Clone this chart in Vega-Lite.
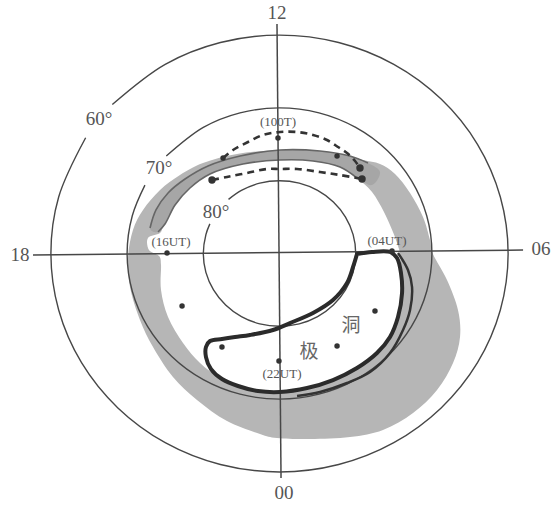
{
  "$schema": "https://vega.github.io/schema/vega-lite/v6.json",
  "width": 553,
  "height": 506,
  "autosize": {"type": "none"},
  "padding": 0,
  "background": "white",
  "config": {"view": {"stroke": null}},
  "encoding": {
    "x": {"field": "x", "type": "quantitative", "scale": {"domain": [-36.68, 35.89], "nice": false, "zero": false}, "axis": null},
    "y": {"field": "y", "type": "quantitative", "scale": {"domain": [-34.68, 34.82], "nice": false, "zero": false}, "axis": null}
  },
  "layer": [
    {
      "data": {"name": "ovalOuter"},
      "mark": {"type": "line", "interpolate": "cardinal-closed", "fill": "#b6b6b6", "strokeWidth": 0},
      "encoding": {"order": {"field": "i", "type": "quantitative"}}
    },
    {
      "data": {"name": "ovalInner"},
      "mark": {"type": "line", "interpolate": "cardinal-closed", "fill": "white", "strokeWidth": 0},
      "encoding": {"order": {"field": "i", "type": "quantitative"}}
    },
    {
      "data": {"name": "daysideBand"},
      "mark": {"type": "line", "interpolate": "cardinal-closed", "fill": "#a6a6a6", "strokeWidth": 0},
      "encoding": {"order": {"field": "i", "type": "quantitative"}}
    },
    {
      "data": {"name": "bandEdges"},
      "mark": {"type": "line", "interpolate": "catmull-rom", "color": "#666666", "strokeWidth": 1.6},
      "encoding": {"detail": {"field": "g"}, "order": {"field": "i", "type": "quantitative"}}
    },
    {
      "data": {"name": "latCircles"},
      "mark": {"type": "line", "interpolate": "catmull-rom", "color": "#474747", "strokeWidth": 1.4},
      "encoding": {"detail": {"field": "g"}, "order": {"field": "i", "type": "quantitative"}}
    },
    {
      "data": {"name": "mltAxes"},
      "mark": {"type": "line", "color": "#474747", "strokeWidth": 1.5},
      "encoding": {"detail": {"field": "g"}, "order": {"field": "i", "type": "quantitative"}}
    },
    {
      "data": {"name": "polewardEdge"},
      "mark": {"type": "line", "interpolate": "catmull-rom", "color": "#333333", "strokeWidth": 2.5},
      "encoding": {"order": {"field": "i", "type": "quantitative"}}
    },
    {
      "data": {"name": "capBoundary"},
      "mark": {"type": "line", "interpolate": "catmull-rom", "color": "#2b2b2b", "strokeWidth": 4, "strokeJoin": "round", "strokeCap": "round"},
      "encoding": {"order": {"field": "i", "type": "quantitative"}}
    },
    {
      "data": {"name": "dashedArcs"},
      "mark": {"type": "line", "interpolate": "catmull-rom", "color": "#333333", "strokeWidth": 2.6, "strokeDash": [7, 5]},
      "encoding": {"detail": {"field": "g"}, "order": {"field": "i", "type": "quantitative"}}
    },
    {
      "data": {"name": "arcEnds"},
      "mark": {"type": "point", "filled": true, "size": 55, "color": "#333333", "opacity": 1}
    },
    {
      "data": {"name": "stations"},
      "mark": {"type": "point", "filled": true, "size": 30, "color": "#333333", "opacity": 1}
    },
    {
      "data": {"name": "bigLabels"},
      "mark": {"type": "text", "font": "Liberation Serif", "fontSize": 19, "color": "#555555", "align": "center", "baseline": "middle"},
      "encoding": {"text": {"field": "t"}}
    },
    {
      "data": {"name": "timeLabels"},
      "mark": {"type": "text", "font": "Liberation Serif", "fontSize": 13, "color": "#555555", "align": "center", "baseline": "middle"},
      "encoding": {"text": {"field": "t"}}
    },
    {
      "data": {"name": "holeLabels"},
      "mark": {"type": "text", "font": "Noto Sans CJK SC", "fontSize": 19, "color": "#666666", "align": "center", "baseline": "middle"},
      "encoding": {"text": {"field": "t"}}
    }
  ],
  "datasets": {
    "ovalOuter": [
      {"i": 0, "x": 0.07, "y": 14.22}, {"i": 1, "x": 4.0, "y": 14.08}, {"i": 2, "x": 8.33, "y": 13.53},
      {"i": 3, "x": 10.96, "y": 12.84}, {"i": 4, "x": 13.19, "y": 12.29}, {"i": 5, "x": 15.16, "y": 10.92},
      {"i": 6, "x": 17.13, "y": 8.31}, {"i": 7, "x": 18.83, "y": 5.01}, {"i": 8, "x": 19.75, "y": 1.85},
      {"i": 9, "x": 20.14, "y": -0.07}, {"i": 10, "x": 21.98, "y": -3.64}, {"i": 11, "x": 23.42, "y": -7.76},
      {"i": 12, "x": 23.69, "y": -11.47}, {"i": 13, "x": 22.77, "y": -15.04}, {"i": 14, "x": 20.67, "y": -18.75},
      {"i": 15, "x": 17.52, "y": -21.91}, {"i": 16, "x": 13.58, "y": -24.24}, {"i": 17, "x": 9.25, "y": -25.21},
      {"i": 18, "x": 4.0, "y": -25.48}, {"i": 19, "x": -0.33, "y": -25.34}, {"i": 20, "x": -2.56, "y": -24.79},
      {"i": 21, "x": -6.89, "y": -23.01}, {"i": 22, "x": -10.83, "y": -20.12}, {"i": 23, "x": -13.98, "y": -16.96},
      {"i": 24, "x": -16.6, "y": -12.84}, {"i": 25, "x": -18.31, "y": -9.13}, {"i": 26, "x": -19.62, "y": -4.6},
      {"i": 27, "x": -19.88, "y": -0.48}, {"i": 28, "x": -19.23, "y": 3.23}, {"i": 29, "x": -17.91, "y": 5.98},
      {"i": 30, "x": -15.68, "y": 8.72}, {"i": 31, "x": -13.06, "y": 10.78}, {"i": 32, "x": -10.04, "y": 12.43},
      {"i": 33, "x": -5.58, "y": 13.67}
    ],
    "ovalInner": [
      {"i": 0, "x": 0.07, "y": 12.84}, {"i": 1, "x": 4.4, "y": 12.71}, {"i": 2, "x": 7.94, "y": 11.88},
      {"i": 3, "x": 10.17, "y": 10.37}, {"i": 4, "x": 12.14, "y": 8.45}, {"i": 5, "x": 13.71, "y": 5.7},
      {"i": 6, "x": 14.89, "y": 2.95}, {"i": 7, "x": 15.55, "y": 1.03}, {"i": 8, "x": 15.81, "y": -0.07},
      {"i": 9, "x": 15.94, "y": -2.68}, {"i": 10, "x": 16.08, "y": -5.43}, {"i": 11, "x": 15.55, "y": -8.72},
      {"i": 12, "x": 14.5, "y": -11.47}, {"i": 13, "x": 12.79, "y": -13.67}, {"i": 14, "x": 10.17, "y": -15.73},
      {"i": 15, "x": 7.02, "y": -17.38}, {"i": 16, "x": 3.61, "y": -18.48}, {"i": 17, "x": 0.07, "y": -19.02},
      {"i": 18, "x": -2.95, "y": -19.02}, {"i": 19, "x": -4.79, "y": -18.48}, {"i": 20, "x": -7.81, "y": -17.1},
      {"i": 21, "x": -10.43, "y": -15.04}, {"i": 22, "x": -12.66, "y": -12.29}, {"i": 23, "x": -14.63, "y": -8.72},
      {"i": 24, "x": -15.55, "y": -5.01}, {"i": 25, "x": -15.55, "y": -1.58}, {"i": 26, "x": -15.81, "y": -0.34},
      {"i": 27, "x": -17.13, "y": 0.48}, {"i": 28, "x": -17.26, "y": 2.13}, {"i": 29, "x": -15.68, "y": 2.82},
      {"i": 30, "x": -15.16, "y": 4.05}, {"i": 31, "x": -13.71, "y": 6.66}, {"i": 32, "x": -11.75, "y": 9.0},
      {"i": 33, "x": -9.12, "y": 10.92}, {"i": 34, "x": -4.79, "y": 12.29}
    ],
    "daysideBand": [
      {"i": 0, "x": -16.99, "y": 3.5}, {"i": 1, "x": -16.21, "y": 5.98}, {"i": 2, "x": -14.63, "y": 8.31},
      {"i": 3, "x": -12.4, "y": 10.23}, {"i": 4, "x": -9.38, "y": 12.02}, {"i": 5, "x": -5.18, "y": 13.39},
      {"i": 6, "x": 0.07, "y": 14.22}, {"i": 7, "x": 5.31, "y": 14.08}, {"i": 8, "x": 9.25, "y": 13.39},
      {"i": 9, "x": 11.61, "y": 12.43}, {"i": 10, "x": 13.19, "y": 11.19}, {"i": 11, "x": 12.14, "y": 9.41},
      {"i": 12, "x": 10.17, "y": 10.37}, {"i": 13, "x": 7.94, "y": 11.88}, {"i": 14, "x": 4.4, "y": 12.71},
      {"i": 15, "x": 0.07, "y": 12.84}, {"i": 16, "x": -4.79, "y": 12.29}, {"i": 17, "x": -9.12, "y": 10.92},
      {"i": 18, "x": -11.75, "y": 9.0}, {"i": 19, "x": -13.71, "y": 6.66}, {"i": 20, "x": -15.03, "y": 4.05},
      {"i": 21, "x": -15.94, "y": 2.95}
    ],
    "bandEdges": [
      {"g": "outer", "i": 0, "x": -16.99, "y": 3.5}, {"g": "outer", "i": 1, "x": -16.21, "y": 5.98}, {"g": "outer", "i": 2, "x": -14.63, "y": 8.31},
      {"g": "outer", "i": 3, "x": -12.4, "y": 10.23}, {"g": "outer", "i": 4, "x": -9.38, "y": 12.02}, {"g": "outer", "i": 5, "x": -5.18, "y": 13.39},
      {"g": "outer", "i": 6, "x": 0.07, "y": 14.22}, {"g": "outer", "i": 7, "x": 5.31, "y": 14.08}, {"g": "outer", "i": 8, "x": 9.25, "y": 13.39},
      {"g": "outer", "i": 9, "x": 11.61, "y": 12.43},
      {"g": "inner", "i": 0, "x": -15.94, "y": 2.95}, {"g": "inner", "i": 1, "x": -15.03, "y": 4.05}, {"g": "inner", "i": 2, "x": -13.71, "y": 6.66},
      {"g": "inner", "i": 3, "x": -11.75, "y": 9.0}, {"g": "inner", "i": 4, "x": -9.12, "y": 10.92}, {"g": "inner", "i": 5, "x": -4.79, "y": 12.29},
      {"g": "inner", "i": 6, "x": 0.07, "y": 12.84}, {"g": "inner", "i": 7, "x": 4.4, "y": 12.71}, {"g": "inner", "i": 8, "x": 7.94, "y": 11.88},
      {"g": "inner", "i": 9, "x": 10.17, "y": 10.37}
    ],
    "latCircles": [
      {"g": "60", "i": 0, "x": -25.44, "y": 15.9}, {"g": "60", "i": 2, "x": -28.98, "y": 7.76},
      {"g": "60", "i": 3, "x": -30, "y": 0}, {"g": "60", "i": 4, "x": -28.98, "y": -7.76}, {"g": "60", "i": 5, "x": -25.98, "y": -15.0},
      {"g": "60", "i": 6, "x": -21.21, "y": -21.21}, {"g": "60", "i": 7, "x": -15.0, "y": -25.98}, {"g": "60", "i": 8, "x": -7.76, "y": -28.98},
      {"g": "60", "i": 9, "x": 0, "y": -30}, {"g": "60", "i": 10, "x": 7.76, "y": -28.98}, {"g": "60", "i": 11, "x": 15.0, "y": -25.98},
      {"g": "60", "i": 12, "x": 21.21, "y": -21.21}, {"g": "60", "i": 13, "x": 25.98, "y": -15.0}, {"g": "60", "i": 14, "x": 28.98, "y": -7.76},
      {"g": "60", "i": 15, "x": 30, "y": 0}, {"g": "60", "i": 16, "x": 28.98, "y": 7.76}, {"g": "60", "i": 17, "x": 25.98, "y": 15.0},
      {"g": "60", "i": 18, "x": 21.21, "y": 21.21}, {"g": "60", "i": 19, "x": 15.0, "y": 25.98}, {"g": "60", "i": 20, "x": 7.76, "y": 28.98},
      {"g": "60", "i": 21, "x": 0, "y": 30}, {"g": "60", "i": 22, "x": -7.76, "y": 28.98}, {"g": "60", "i": 23, "x": -15.0, "y": 25.98},
      {"g": "60", "i": 25, "x": -21.94, "y": 20.46},
      {"g": "70", "i": 0, "x": -17.66, "y": 9.39}, {"g": "70", "i": 1, "x": -19.32, "y": 5.18}, {"g": "70", "i": 2, "x": -20, "y": 0},
      {"g": "70", "i": 3, "x": -19.32, "y": -5.18}, {"g": "70", "i": 4, "x": -17.32, "y": -10.0}, {"g": "70", "i": 5, "x": -14.14, "y": -14.14},
      {"g": "70", "i": 6, "x": -10.0, "y": -17.32}, {"g": "70", "i": 7, "x": -5.18, "y": -19.32}, {"g": "70", "i": 8, "x": 0, "y": -20},
      {"g": "70", "i": 9, "x": 5.18, "y": -19.32}, {"g": "70", "i": 10, "x": 10.0, "y": -17.32}, {"g": "70", "i": 11, "x": 14.14, "y": -14.14},
      {"g": "70", "i": 12, "x": 17.32, "y": -10.0}, {"g": "70", "i": 13, "x": 19.32, "y": -5.18}, {"g": "70", "i": 14, "x": 20, "y": 0},
      {"g": "70", "i": 15, "x": 19.32, "y": 5.18}, {"g": "70", "i": 16, "x": 17.32, "y": 10.0}, {"g": "70", "i": 17, "x": 14.14, "y": 14.14},
      {"g": "70", "i": 18, "x": 10.0, "y": 17.32}, {"g": "70", "i": 19, "x": 5.18, "y": 19.32}, {"g": "70", "i": 20, "x": 0, "y": 20},
      {"g": "70", "i": 21, "x": -5.18, "y": 19.32}, {"g": "70", "i": 22, "x": -10.0, "y": 17.32},
      {"g": "70", "i": 24, "x": -14.86, "y": 13.38},
      {"g": "80", "i": 0, "x": -9.14, "y": 4.07}, {"g": "80", "i": 1, "x": -9.66, "y": 2.59}, {"g": "80", "i": 2, "x": -10, "y": 0},
      {"g": "80", "i": 3, "x": -9.66, "y": -2.59}, {"g": "80", "i": 4, "x": -8.66, "y": -5.0}, {"g": "80", "i": 5, "x": -7.07, "y": -7.07},
      {"g": "80", "i": 6, "x": -5.0, "y": -8.66}, {"g": "80", "i": 7, "x": -2.59, "y": -9.66}, {"g": "80", "i": 8, "x": 0, "y": -10},
      {"g": "80", "i": 9, "x": 2.59, "y": -9.66}, {"g": "80", "i": 10, "x": 5.0, "y": -8.66}, {"g": "80", "i": 11, "x": 7.07, "y": -7.07},
      {"g": "80", "i": 12, "x": 8.66, "y": -5.0}, {"g": "80", "i": 13, "x": 9.66, "y": -2.59}, {"g": "80", "i": 14, "x": 10, "y": 0},
      {"g": "80", "i": 15, "x": 9.66, "y": 2.59}, {"g": "80", "i": 16, "x": 8.66, "y": 5.0}, {"g": "80", "i": 17, "x": 7.07, "y": 7.07},
      {"g": "80", "i": 18, "x": 5.0, "y": 8.66}, {"g": "80", "i": 19, "x": 2.59, "y": 9.66}, {"g": "80", "i": 20, "x": 0, "y": 10},
      {"g": "80", "i": 21, "x": -2.59, "y": 9.66}, {"g": "80", "i": 22, "x": -5.0, "y": 8.66}, {"g": "80", "i": 23, "x": -6.69, "y": 7.43}
    ],
    "mltAxes": [
      {"g": "noon-midnight", "i": 0, "x": -0.33, "y": 31.52}, {"g": "noon-midnight", "i": 1, "x": 0.2, "y": -30.84},
      {"g": "dusk-dawn", "i": 0, "x": -32.35, "y": -0.21}, {"g": "dusk-dawn", "i": 1, "x": 31.96, "y": 0.48}
    ],
    "polewardEdge": [
      {"i": 0, "x": 15.55, "y": 0.07}, {"i": 1, "x": 16.86, "y": -2.27}, {"i": 2, "x": 17.39, "y": -4.6},
      {"i": 3, "x": 17.13, "y": -7.76}, {"i": 4, "x": 16.21, "y": -10.51}, {"i": 5, "x": 14.5, "y": -13.67},
      {"i": 6, "x": 11.88, "y": -16.28}, {"i": 7, "x": 8.86, "y": -17.79}, {"i": 8, "x": 5.31, "y": -19.02},
      {"i": 9, "x": 2.3, "y": -19.57}
    ],
    "capBoundary": [
      {"i": 0, "x": 10.17, "y": -0.07}, {"i": 1, "x": 12.14, "y": 0.21}, {"i": 2, "x": 14.5, "y": 0.21},
      {"i": 3, "x": 15.42, "y": -0.62}, {"i": 4, "x": 15.94, "y": -2.68}, {"i": 5, "x": 16.08, "y": -5.43},
      {"i": 6, "x": 15.55, "y": -8.72}, {"i": 7, "x": 14.5, "y": -11.47}, {"i": 8, "x": 12.79, "y": -13.67},
      {"i": 9, "x": 10.17, "y": -15.73}, {"i": 10, "x": 7.02, "y": -17.38}, {"i": 11, "x": 3.61, "y": -18.48},
      {"i": 12, "x": 0.07, "y": -19.02}, {"i": 13, "x": -2.82, "y": -18.89}, {"i": 14, "x": -5.45, "y": -18.2},
      {"i": 15, "x": -7.55, "y": -17.24}, {"i": 16, "x": -8.99, "y": -15.87}, {"i": 17, "x": -9.65, "y": -14.22},
      {"i": 18, "x": -9.65, "y": -12.84}, {"i": 19, "x": -9.12, "y": -12.02}, {"i": 20, "x": -7.55, "y": -11.74},
      {"i": 21, "x": -5.84, "y": -11.47}, {"i": 22, "x": -3.87, "y": -11.19}, {"i": 23, "x": -0.85, "y": -10.51},
      {"i": 24, "x": 1.38, "y": -9.55}, {"i": 25, "x": 4.4, "y": -8.17}, {"i": 26, "x": 7.02, "y": -6.39},
      {"i": 27, "x": 8.86, "y": -4.05}, {"i": 28, "x": 9.65, "y": -1.85}, {"i": 29, "x": 10.17, "y": -0.07}
    ],
    "dashedArcs": [
      {"g": "outer", "i": 0, "x": -7.41, "y": 13.12}, {"g": "outer", "i": 1, "x": -6.1, "y": 14.22}, {"g": "outer", "i": 2, "x": -4.13, "y": 15.32},
      {"g": "outer", "i": 3, "x": -2.17, "y": 16.28}, {"g": "outer", "i": 4, "x": 0.07, "y": 16.69}, {"g": "outer", "i": 5, "x": 2.3, "y": 16.69},
      {"g": "outer", "i": 6, "x": 4.4, "y": 16.28}, {"g": "outer", "i": 7, "x": 6.23, "y": 15.59}, {"g": "outer", "i": 8, "x": 7.68, "y": 14.63},
      {"g": "outer", "i": 9, "x": 8.86, "y": 13.8}, {"g": "outer", "i": 10, "x": 9.91, "y": 12.71}, {"g": "outer", "i": 11, "x": 10.56, "y": 11.74},
      {"g": "inner", "i": 0, "x": -8.86, "y": 10.1}, {"g": "inner", "i": 1, "x": -6.89, "y": 10.51}, {"g": "inner", "i": 2, "x": -4.27, "y": 11.06},
      {"g": "inner", "i": 3, "x": -1.64, "y": 11.61}, {"g": "inner", "i": 4, "x": 0.07, "y": 11.61}, {"g": "inner", "i": 5, "x": 2.3, "y": 11.61},
      {"g": "inner", "i": 6, "x": 5.31, "y": 11.19}, {"g": "inner", "i": 7, "x": 7.94, "y": 10.78}, {"g": "inner", "i": 8, "x": 10.83, "y": 10.23}
    ],
    "arcEnds": [
      {"x": -8.86, "y": 10.1}, {"x": 10.83, "y": 10.23}, {"x": 10.56, "y": 11.74}
    ],
    "stations": [
      {"x": -0.2, "y": 15.87}, {"x": -14.76, "y": 0.07}, {"x": 14.76, "y": 0.34}, {"x": -0.07, "y": -14.77},
      {"x": -12.79, "y": -7.21}, {"x": -7.55, "y": -12.84}, {"x": 7.55, "y": -12.71}, {"x": 12.53, "y": -7.9},
      {"x": -7.41, "y": 13.12}, {"x": 7.55, "y": 13.39}
    ],
    "bigLabels": [
      {"t": "12", "x": -0.33, "y": 33.04}, {"t": "00", "x": 0.59, "y": -32.9},
      {"t": "18", "x": -34.05, "y": -0.21}, {"t": "06", "x": 34.32, "y": 0.62},
      {"t": "60°", "x": -23.69, "y": 18.48}, {"t": "70°", "x": -15.81, "y": 11.74}, {"t": "80°", "x": -8.33, "y": 5.7}
    ],
    "timeLabels": [
      {"t": "(100T)", "x": -0.2, "y": 18.06}, {"t": "(16UT)", "x": -14.24, "y": 1.58},
      {"t": "(04UT)", "x": 14.11, "y": 1.72}, {"t": "(22UT)", "x": 0.33, "y": -16.55}
    ],
    "holeLabels": [
      {"t": "洞", "x": 9.38, "y": -9.96}, {"t": "极", "x": 3.87, "y": -13.53}
    ]
  }
}
